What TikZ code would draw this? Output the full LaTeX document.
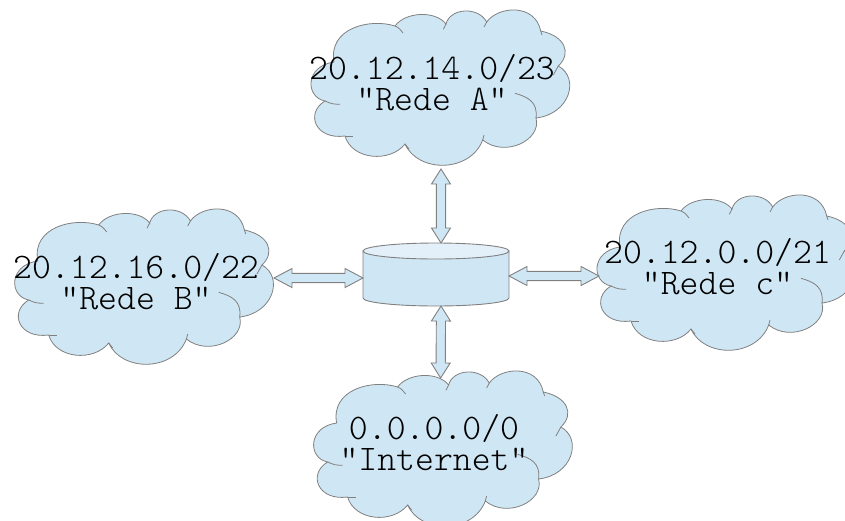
\documentclass[tikz,border=0pt]{standalone}
\usepackage{tikz}
\usetikzlibrary{calc}
\definecolor{cloudblue}{RGB}{207,231,244}
\definecolor{toplight}{RGB}{227,240,249}
\definecolor{edgegray}{RGB}{128,128,128}

\tikzset{
  netlabel/.style={font=\fontseries{l}\ttfamily\fontsize{36}{31}\selectfont,align=center,text=black,inner sep=0pt},
  blockarrow/.style={draw=edgegray,fill=cloudblue,line width=0.9pt,
    to path={
      -- ($(\tikztostart)!#1!(\tikztotarget)!9.5pt!90:(\tikztotarget)$)
      -- ($(\tikztostart)!#1!(\tikztotarget)!4.6pt!90:(\tikztotarget)$)
      -- ($(\tikztotarget)!#1!(\tikztostart)!4.6pt!-90:(\tikztostart)$)
      -- ($(\tikztotarget)!#1!(\tikztostart)!9.5pt!-90:(\tikztostart)$)
      -- (\tikztotarget)
      -- ($(\tikztotarget)!#1!(\tikztostart)!9.5pt!90:(\tikztostart)$)
      -- ($(\tikztotarget)!#1!(\tikztostart)!4.6pt!90:(\tikztostart)$)
      -- ($(\tikztostart)!#1!(\tikztotarget)!4.6pt!-90:(\tikztotarget)$)
      -- ($(\tikztostart)!#1!(\tikztotarget)!9.5pt!-90:(\tikztotarget)$)
      -- cycle}},
  pics/cloud/.style={code={
    % outline
    \draw[draw=edgegray,fill=cloudblue,line width=0.8pt] (-115,13)
      .. controls (-135,9) and (-135,-22) .. (-106,-26)
      .. controls (-112,-60) and (-70,-70) .. (-45,-62)
      .. controls (-35,-76) and (-5,-78) .. (6,-64)
      .. controls (10,-80) and (38,-82) .. (46.7,-66)
      .. controls (58,-82) and (95,-85) .. (100.7,-57)
      .. controls (125,-52) and (132,-35) .. (118.3,-22)
      .. controls (140,-10) and (130,26) .. (96,30)
      .. controls (102,52) and (65,70) .. (42.7,52)
      .. controls (30,85) and (-22,85) .. (-35,56)
      .. controls (-50,75) and (-88,72) .. (-95,48)
      .. controls (-125,52) and (-135,25) .. (-115,13) -- cycle;
    % lobe ends inside
    \draw[edgegray,line width=0.8pt] (-115,13) .. controls (-108,16) .. (-100,16.3);
    \draw[edgegray,line width=0.8pt] (-45,-62) .. controls (-41,-60) .. (-37,-55);
    \draw[edgegray,line width=0.8pt] (6,-64) .. controls (5,-61) .. (3.3,-58.7);
    \draw[edgegray,line width=0.8pt] (46.7,-66) .. controls (45,-63) .. (44,-61);
    \draw[edgegray,line width=0.8pt] (100.7,-57) .. controls (101,-55) .. (102,-53);
    \draw[edgegray,line width=0.8pt] (118.3,-22) .. controls (116,-17) .. (113.3,-13);
    \draw[edgegray,line width=0.8pt] (96,30) .. controls (98,14) and (88,9) .. (75,5.3);
    \draw[edgegray,line width=0.8pt] (42.7,52) .. controls (43.5,50) .. (44,47);
    \draw[edgegray,line width=0.8pt] (-35,56) .. controls (-33,59) .. (-31,61);
    \draw[edgegray,line width=0.8pt] (-95,48) .. controls (-91,48.5) .. (-86.7,48);
    % arrow ends
    \coordinate (-north) at (-2,-71);
    \coordinate (-south) at (1,81);
    \coordinate (-east) at (130.3,-9);
    \coordinate (-west) at (-127,3);
  }}
}

\begin{document}
\begin{tikzpicture}[x=1pt,y=-1pt]
\useasboundingbox (0,0) rectangle (845,520);
\clip (0,0) rectangle (845,520);
% clouds
\pic (redeA) at (440,88) {cloud};
\pic (redeB) at (143.7,287) {cloud};
\pic (redeC) at (726,273) {cloud};
\pic (internet) at (442.6,449) {cloud};
% router
\node[minimum width=146pt,minimum height=63pt,inner sep=0pt,outer sep=0pt] (router) at (436,274.5) {};
\draw[edgegray,fill=cloudblue,line width=0.9pt] (363,251) -- (363,298)
  arc[start angle=180,end angle=360,x radius=73pt,y radius=8pt] -- (509,251) -- cycle;
\draw[edgegray,fill=toplight,line width=0.9pt] (436,251) ellipse[x radius=73pt,y radius=8pt];
\coordinate (routerN) at ([xshift=5pt]router.north);
\coordinate (routerS) at ([xshift=5pt]router.south);
\coordinate (routerW) at ([yshift=-3.5pt]router.west);
\coordinate (routerE) at ([yshift=-1.5pt]router.east);
% arrows
\draw[blockarrow=15pt] (routerN) to (redeA-south);
\draw[blockarrow=15pt] (routerS) to (internet-north);
\draw[blockarrow=18pt] (routerW) to (redeB-east);
\draw[blockarrow=18pt] (routerE) to (redeC-west);
% labels
\node[netlabel] (labelA) at (432,83) {20.12.14.0/23\\“Rede A”};
\node[netlabel] (labelB) at (136,282) {20.12.16.0/22\\“Rede B”};
\node[netlabel] (labelC) at (717.5,267) {20.12.0.0/21\\“Rede c”};
\node[netlabel] (labelD) at (434,443) {0.0.0.0/0\\“Internet”};
\end{tikzpicture}
\end{document}
